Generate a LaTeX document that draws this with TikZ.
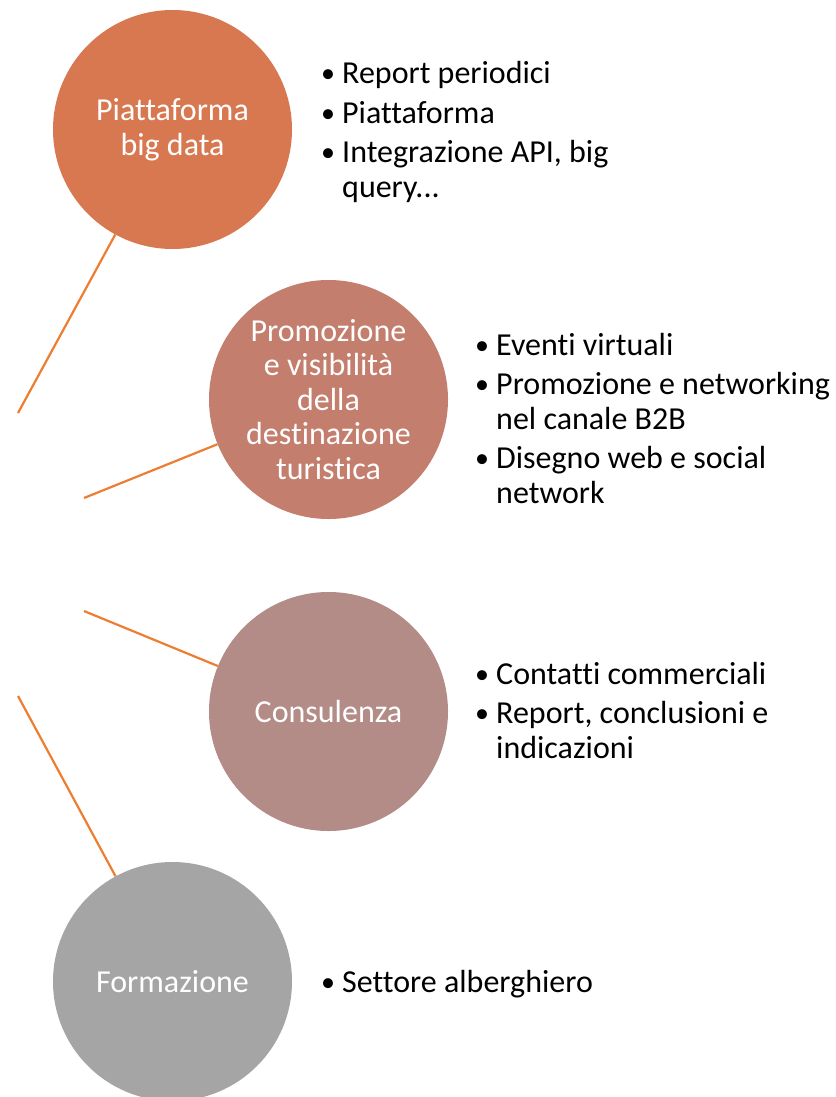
\documentclass[tikz,border=0pt]{standalone}
\usepackage{fontspec}
\setmainfont{Carlito}[Ligatures=NoCommon]
\usepackage{tikz}
\usetikzlibrary{positioning}
\definecolor{bigdata}{HTML}{D77850}
\definecolor{promo}{HTML}{C47E6E}
\definecolor{consul}{HTML}{B38C88}
\definecolor{forma}{HTML}{A5A5A5}
\definecolor{linkorange}{HTML}{ED7D31}
\newcommand{\bl}{\makebox[22pt][l]{\hspace{1pt}\raisebox{1pt}{\fontsize{28}{34.5}\selectfont\textbullet}}}
\newcommand{\hg}{\hspace*{22pt}}

\begin{document}
\begin{tikzpicture}[x=1pt, y=-1pt,
    every node/.style={font=\fontsize{32}{34.5}\selectfont},
    bubble/.style={circle, minimum size=239pt, inner sep=0pt, text=white, align=center},
    link/.style={draw=linkorange, line width=2.2pt},
    bullets/.style={anchor=base west, inner sep=0pt}]
  \useasboundingbox (0,0) rectangle (835,1097);

  % circles
  \node[bubble, fill=bigdata] (pbd) at (172.5,129.5) {Piattaforma\\big data};
  \node[bubble, fill=promo] (prom) at (328.5,399.5) {Promozione\\e visibilità\\della\\destinazione\\turistica};
  \node[bubble, fill=consul] (cons) at (328.5,711.5) {Consulenza};
  \node[bubble, fill=forma] (form) at (172.5,981.5) {Formazione};

  % bullet lists
  \node[bullets] (lpbd) at (320,84) {\begin{tabular}[t]{@{}l@{}}
    \bl Report periodici\\[5pt]\bl Piattaforma\\[5pt]\bl Integrazione API, big\\\hg query...\end{tabular}};
  \node[bullets] (lprom) at (474,355) {\begin{tabular}[t]{@{}l@{}}
    \bl Eventi virtuali\\[5pt]\bl Promozione e networking\\\hg nel canale B2B\\[5pt]\bl Disegno web e social\\\hg network\end{tabular}};
  \node[bullets] (lcons) at (474,684) {\begin{tabular}[t]{@{}l@{}}
    \bl Contatti commerciali\\[5pt]\bl Report, conclusioni e\\\hg indicazioni\end{tabular}};
  \node[bullets] (lform) at (320,992) {\begin{tabular}[t]{@{}l@{}}\bl Settore alberghiero\end{tabular}};

  % connectors
  \coordinate (a1) at (18,413);
  \coordinate (a2) at (84,498);
  \coordinate (a3) at (84,611);
  \coordinate (a4) at (18,696);
  \draw[link] (pbd) -- (a1);
  \draw[link] (prom) -- (a2);
  \draw[link] (cons) -- (a3);
  \draw[link] (form) -- (a4);
\end{tikzpicture}
\end{document}
